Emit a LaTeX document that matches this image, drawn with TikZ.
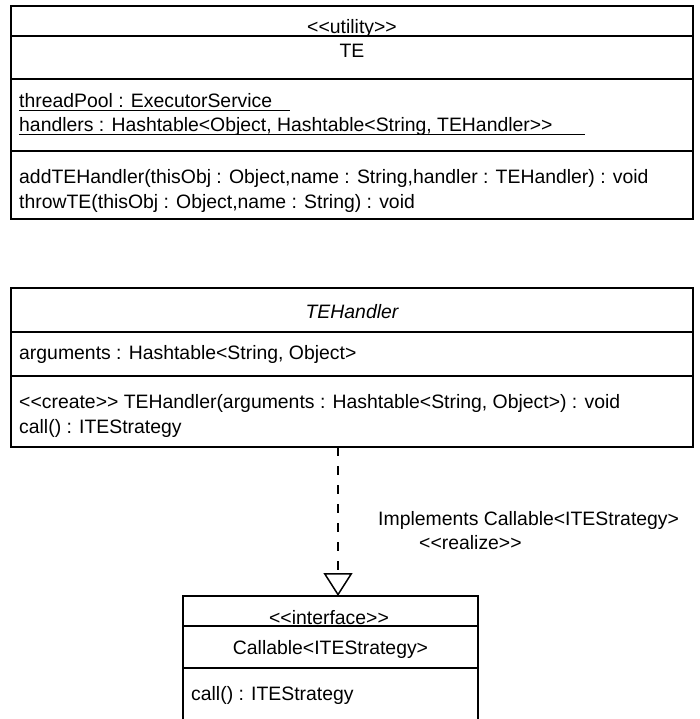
\documentclass[tikz,border=0pt]{standalone}
\usepackage{fontspec}
\newfontfamily\umlfont{Liberation Sans}
\usetikzlibrary{arrows.meta}
\begin{document}
\begin{tikzpicture}[x=1pt,y=-1pt,
  box/.style={draw, line width=1.5pt, rectangle, inner sep=0pt, outer sep=0pt, anchor=north west},
  sepline/.style={line width=1.3pt},
  uline/.style={line width=0.9pt},
  txt/.style={anchor=base west, inner sep=0pt, font=\umlfont\fontsize{19.4}{23}\selectfont},
  ctxt/.style={anchor=base, inner sep=0pt, font=\umlfont\fontsize{19.4}{23}\selectfont},
  realize/.style={line width=1.5pt, dash pattern=on 9pt off 10pt,
    -{Triangle[open, length=23pt, width=29pt, line width=1.5pt]}}]
\clip (0,0) rectangle (699,719);

% ---- TE utility class
\node[box, minimum width=682pt, minimum height=213pt] (te) at (11,6) {};
\draw[sepline] ([yshift=-30pt]te.north west) -- ([yshift=-30pt]te.north east);
\draw[sepline] ([yshift=-73pt]te.north west) -- ([yshift=-73pt]te.north east);
\draw[sepline] ([yshift=-145pt]te.north west) -- ([yshift=-145pt]te.north east);
\node[ctxt] (testereo) at (352,34) {<<utility>>};
\node[ctxt] (tename) at (352,58) {TE};
\node[txt] (tea1) at (19,108) {threadPool : ExecutorService};
\node[txt] (tea2) at (19,132) {handlers : Hashtable<Object, Hashtable<String, TEHandler>>};
\draw[uline] ([yshift=-2.5pt]tea1.base west) -- ++(271,0);
\draw[uline] ([yshift=-2.5pt]tea2.base west) -- ++(566,0);
\node[txt] (teo1) at (19,184) {addTEHandler(thisObj : Object,name : String,handler : TEHandler) : void};
\node[txt] (teo2) at (19,208) {throwTE(thisObj : Object,name : String) : void};

% ---- TEHandler class
\node[box, minimum width=682pt, minimum height=159pt] (teh) at (11,288) {};
\draw[sepline] ([yshift=-44pt]teh.north west) -- ([yshift=-44pt]teh.north east);
\draw[sepline] ([yshift=-88pt]teh.north west) -- ([yshift=-88pt]teh.north east);
\node[ctxt] (tehname) at (352,318) {\itshape TEHandler};
\node[txt] (teha1) at (19,359) {arguments : Hashtable<String, Object>};
\node[txt] (teho1) at (19,408) {<<create>> TEHandler(arguments : Hashtable<String, Object>) : void};
\node[txt] (teho2) at (19,433) {call() : ITEStrategy};

% ---- Callable interface
\node[box, minimum width=295pt, minimum height=135pt] (ifc) at (183,596) {};
\draw[sepline] ([yshift=-30pt]ifc.north west) -- ([yshift=-30pt]ifc.north east);
\draw[sepline] ([yshift=-72pt]ifc.north west) -- ([yshift=-72pt]ifc.north east);
\node[ctxt] (ifcstereo) at (329,624) {<<interface>>};
\node[ctxt] (ifcname) at (330.5,654) {Callable<ITEStrategy>};
\node[txt] (ifco1) at (191,700) {call() : ITEStrategy};

% ---- realization
\coordinate (rx) at (338,0);
\draw[realize] (teh.south -| rx) -- (ifc.north -| rx);
\node[txt] (rlab1) at (378,525) {Implements Callable<ITEStrategy>};
\node[txt] (rlab2) at (419,549) {<<realize>>};
\end{tikzpicture}
\end{document}
